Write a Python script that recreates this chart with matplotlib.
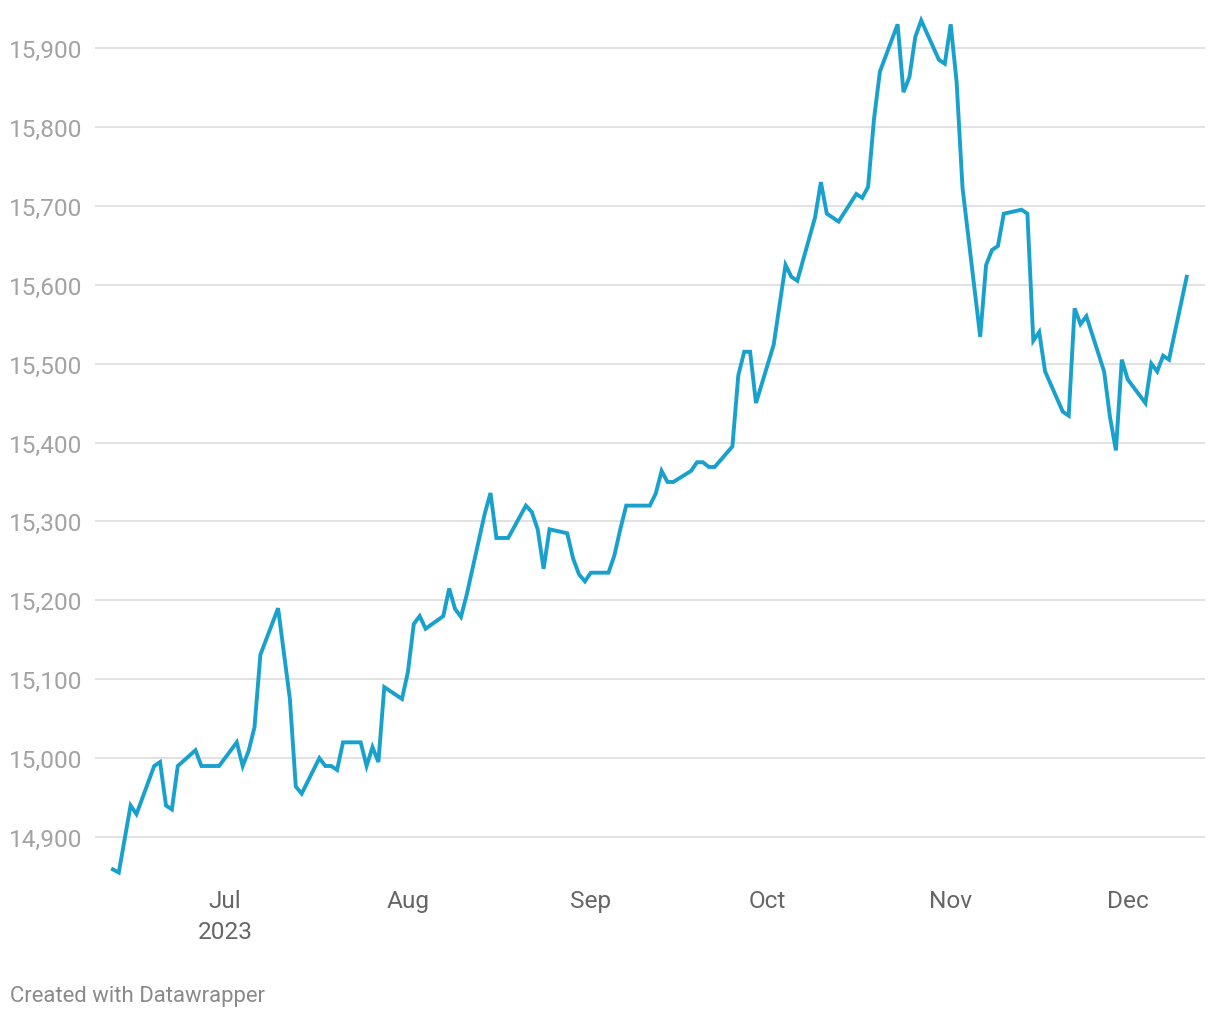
import matplotlib.pyplot as plt
import matplotlib.dates as mdates
import numpy as np
import pandas as pd

plt.rcParams['font.family'] = ['Roboto', 'DejaVu Sans']

# USD/IDR style daily series
dates = ['2023-06-12', '2023-06-13', '2023-06-15', '2023-06-16', '2023-06-19', '2023-06-20',
         '2023-06-21', '2023-06-22', '2023-06-23', '2023-06-26', '2023-06-27', '2023-06-30',
         '2023-07-03', '2023-07-04', '2023-07-05', '2023-07-06', '2023-07-07', '2023-07-10',
         '2023-07-12', '2023-07-13', '2023-07-14', '2023-07-17', '2023-07-18', '2023-07-19',
         '2023-07-20', '2023-07-21', '2023-07-24', '2023-07-25', '2023-07-26', '2023-07-27',
         '2023-07-28', '2023-07-31', '2023-08-01', '2023-08-02', '2023-08-03', '2023-08-04',
         '2023-08-07', '2023-08-08', '2023-08-09', '2023-08-10', '2023-08-11', '2023-08-14',
         '2023-08-15', '2023-08-16', '2023-08-18', '2023-08-21', '2023-08-22', '2023-08-23',
         '2023-08-24', '2023-08-25', '2023-08-28', '2023-08-29', '2023-08-30', '2023-08-31',
         '2023-09-01', '2023-09-04', '2023-09-05', '2023-09-06', '2023-09-07', '2023-09-11',
         '2023-09-12', '2023-09-13', '2023-09-14', '2023-09-15', '2023-09-18', '2023-09-19',
         '2023-09-20', '2023-09-21', '2023-09-22', '2023-09-25', '2023-09-26', '2023-09-27',
         '2023-09-28', '2023-09-29', '2023-10-02', '2023-10-04', '2023-10-05', '2023-10-06',
         '2023-10-09', '2023-10-10', '2023-10-11', '2023-10-13', '2023-10-16', '2023-10-17',
         '2023-10-18', '2023-10-19', '2023-10-20', '2023-10-23', '2023-10-24', '2023-10-25',
         '2023-10-26', '2023-10-27', '2023-10-30', '2023-10-31', '2023-11-01', '2023-11-02',
         '2023-11-03', '2023-11-06', '2023-11-07', '2023-11-08', '2023-11-09', '2023-11-10',
         '2023-11-13', '2023-11-14', '2023-11-15', '2023-11-16', '2023-11-17', '2023-11-20',
         '2023-11-21', '2023-11-22', '2023-11-23', '2023-11-24', '2023-11-27', '2023-11-28',
         '2023-11-29', '2023-11-30', '2023-12-01', '2023-12-04', '2023-12-05', '2023-12-06',
         '2023-12-07', '2023-12-08', '2023-12-11']
values = [14859, 14855, 14940, 14929, 14990, 14995,
          14940, 14935, 14990, 15010, 14990, 14990,
          15020, 14990, 15009, 15039, 15131, 15190,
          15075, 14964, 14955, 15000, 14990, 14990,
          14985, 15020, 15020, 14990, 15014, 14995,
          15090, 15075, 15109, 15170, 15180, 15164,
          15180, 15215, 15189, 15179, 15208, 15309,
          15336, 15279, 15279, 15320, 15312, 15290,
          15240, 15290, 15285, 15253, 15233, 15224,
          15235, 15235, 15257, 15290, 15320, 15320,
          15335, 15364, 15350, 15350, 15364, 15375,
          15375, 15369, 15369, 15395, 15485, 15515,
          15515, 15450, 15524, 15625, 15610, 15605,
          15685, 15730, 15690, 15680, 15715, 15710,
          15724, 15810, 15870, 15930, 15844, 15863,
          15914, 15935, 15885, 15880, 15930, 15857,
          15723, 15534, 15625, 15644, 15649, 15690,
          15695, 15690, 15529, 15540, 15490, 15439,
          15434, 15570, 15550, 15560, 15490, 15432,
          15390, 15505, 15480, 15450, 15500, 15490,
          15510, 15505, 15610]

yticks = [14900, 15000, 15100, 15200, 15300, 15400, 15500, 15600, 15700, 15800, 15900]
xtick_dates = ['2023-07-01', '2023-08-01', '2023-09-01', '2023-10-01', '2023-11-01', '2023-12-01']
xtick_labels = ['Jul\n2023', 'Aug', 'Sep', 'Oct', 'Nov', 'Dec']

d = pd.to_datetime(dates)

fig = plt.figure(figsize=(12.2, 10.2), dpi=100)
ax = fig.add_axes([95/1220, 1 - 880/1020, 1110/1220, 870/1020])

ax.plot(d, values, color='#18a1cd', lw=2.8, solid_joinstyle='miter', zorder=3)

jul1 = pd.Timestamp('2023-07-01')
ax.set_xlim(jul1 + pd.Timedelta(days=-22.03), jul1 + pd.Timedelta(days=166.1))
ax.set_ylim(14846.8, 15949.4)

ax.set_yticks(yticks)
ax.set_yticklabels([f'{v:,}' for v in yticks])
ax.set_xticks(pd.to_datetime(xtick_dates))
ax.set_xticklabels(xtick_labels, linespacing=1.45)

ax.grid(axis='y', color='#e2e2e2', lw=1.4)
ax.set_axisbelow(True)
for s in ax.spines.values():
    s.set_visible(False)
ax.tick_params(axis='y', length=0, pad=9, labelsize=17.6, labelcolor='#a3a3a3')
ax.tick_params(axis='x', length=0, pad=7, labelsize=17.6, labelcolor='#666666')

fig.text(10/1220, 1 - 997/1020, 'Created with Datawrapper', fontsize=15.9,
         color='#8a8a8a', ha='left', va='center')

fig.savefig('out.png', dpi=100)
